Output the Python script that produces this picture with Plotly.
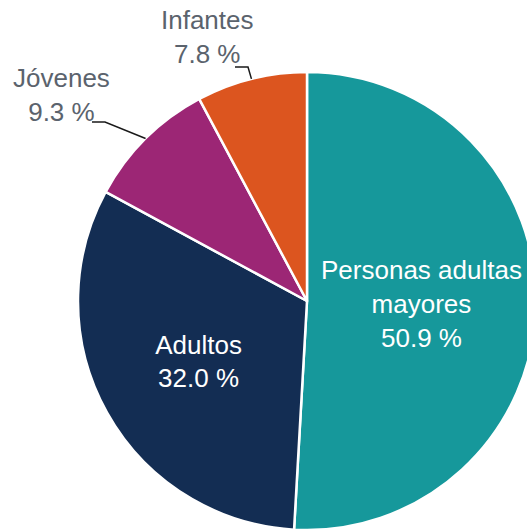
import math

import plotly.graph_objects as go

labels = ["Personas adultas<br>mayores", "Adultos", "Jóvenes", "Infantes"]
shares = [50.9, 32.0, 9.3, 7.8]
colors = ["#16989b", "#132d53", "#9c2675", "#dc551f"]
text_pos = ["inside", "inside", "none", "none"]

# figure is drawn a bit larger than the window so the pie gets cropped at the right like the original
W, H = 560, 560
cx, cy, r = 307, 301, 229
FONT = "Liberation Sans, Arial, sans-serif"
LABEL_GREY = "#5b636d"

# outside labels: (text centre x, text centre y, elbow x, elbow y, line end x) in pixels
outside = {
    "Jóvenes": (61, 95, 105, 122, 92),
    "Infantes": (207, 37, 248, 67, 235),
}


def px(x):
    return x / W


def py(y):
    return 1 - y / H


fig = go.Figure(go.Pie(
    labels=labels,
    values=shares,
    sort=False,
    direction="clockwise",
    rotation=0,
    marker=dict(colors=colors, line=dict(color="white", width=2.5)),
    texttemplate="%{label}<br>%{value:.1f} %",
    textposition=text_pos,
    insidetextorientation="horizontal",
    insidetextfont=dict(color="white", size=26, family=FONT),
    domain=dict(x=[px(cx - r), px(cx + r)], y=[py(cy + r), py(cy - r)]),
    hoverinfo="skip",
    showlegend=False,
))

# leader lines start at the middle of each small slice's outer edge
total = sum(shares)
start = 0.0
for lab, val in zip(labels, shares):
    mid = (start + val / 2) / total * 2 * math.pi
    start += val
    if lab not in outside:
        continue
    tx, ty, ex, ey, lx = outside[lab]
    x0 = cx + r * math.sin(mid)
    y0 = cy - r * math.cos(mid)
    fig.add_shape(
        type="path", xref="paper", yref="paper",
        path=f"M {px(x0)} {py(y0)} L {px(ex)} {py(ey)} L {px(lx)} {py(ey)}",
        line=dict(color="#1a1a1a", width=1.5),
    )
    fig.add_annotation(
        x=px(tx), y=py(ty), xref="paper", yref="paper",
        text=f"{lab}<br>{val:.1f} %",
        showarrow=False, xanchor="center", yanchor="middle", align="center",
        font=dict(color=LABEL_GREY, size=26, family=FONT),
    )

fig.update_layout(
    width=W, height=H,
    margin=dict(l=0, r=0, t=0, b=0),
    paper_bgcolor="white",
    font=dict(family=FONT),
)

fig.write_html(
    "out.html",
    config={"displayModeBar": False},
    post_script="document.body.style.margin='0';document.body.style.overflow='hidden';",
)
